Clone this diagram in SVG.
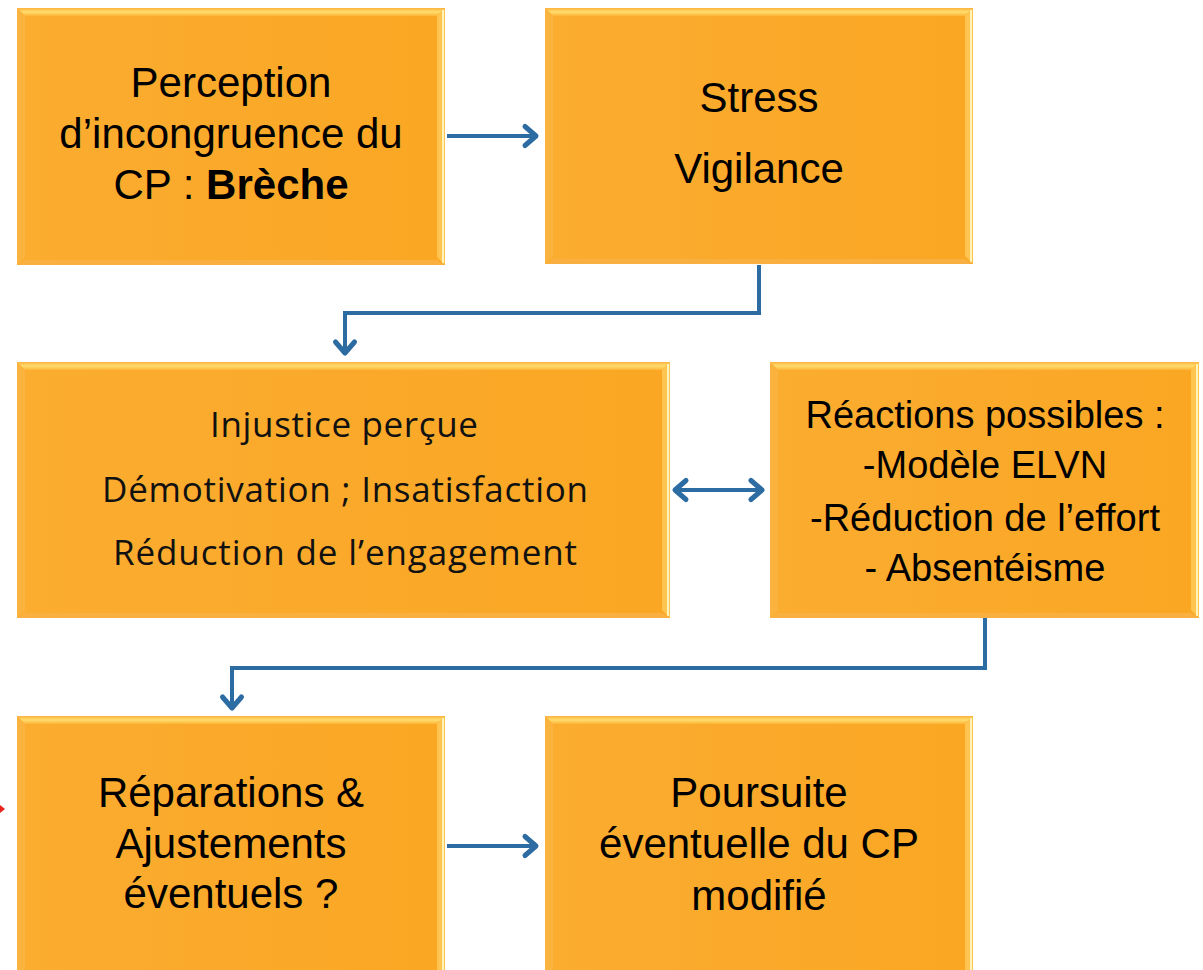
<svg xmlns="http://www.w3.org/2000/svg" width="1203" height="970" viewBox="0 0 1203 970">
  <defs>
    <linearGradient id="body" x1="0" y1="0" x2="1" y2="0">
      <stop offset="0" stop-color="#FBAD30"/>
      <stop offset="0.5" stop-color="#FAA92A"/>
      <stop offset="1" stop-color="#FAA723"/>
    </linearGradient>
    <linearGradient id="topbev" x1="0" y1="0" x2="0" y2="1">
      <stop offset="0" stop-color="#FBB23C"/>
      <stop offset="0.5" stop-color="#FFDD6E"/>
      <stop offset="1" stop-color="#FCB437"/>
    </linearGradient>
    <marker id="ah" viewBox="-16 -14 20 28" markerWidth="20" markerHeight="28" refX="0" refY="0" orient="auto-start-reverse" markerUnits="userSpaceOnUse">
      <path d="M-11,-9.5 L0,0 L-11,9.5" fill="none" stroke="#2D6CA2" stroke-width="5" stroke-linecap="round" stroke-linejoin="round"/>
    </marker>
  </defs>
  <style>
    .box { fill: url(#body); }
    .tb { fill: url(#topbev); }
    .lb { fill: #FBB443; opacity: 0.8; }
    .rb { fill: #FFC550; }
    .rl { fill: #FFF3B8; }
    .bb { fill: #F9B040; }
    .t { font-family: "Liberation Sans", Arial, sans-serif; font-size: 42px; fill: #000; text-anchor: middle; }
    .t4 { font-family: "Liberation Sans", Arial, sans-serif; font-size: 38px; fill: #000; text-anchor: middle; }
    .t3 { font-family: "Open Sans", "Liberation Sans", sans-serif; font-size: 35px; fill: #111; text-anchor: middle; }
    .con { fill: none; stroke: #2D6CA2; stroke-width: 4; }
  </style>
  <rect x="0" y="0" width="1203" height="970" fill="#FFFFFF"/>

  <g id="node1">
    <rect class="box" x="17" y="8" width="428" height="257"/>
    <polygon class="tb" points="17,8 445,8 437,16 25,16"/>
    <polygon class="lb" points="17,8 25,16 25,257 17,265"/>
    <polygon class="rb" points="445,8 445,265 437,257 437,16"/>
    <rect class="rl" x="442" y="10" width="2" height="253"/>
    <polygon class="bb" points="17,265 445,265 437,260 25,260"/>
    <text class="t" x="231" y="97">Perception</text>
    <text class="t" x="231" y="148">d’incongruence du</text>
    <text class="t" x="231" y="199">CP : <tspan font-weight="bold">Brèche</tspan></text>
  </g>

  <g id="node2">
    <rect class="box" x="545" y="8" width="428" height="256"/>
    <polygon class="tb" points="545,8 973,8 965,16 553,16"/>
    <polygon class="lb" points="545,8 553,16 553,256 545,264"/>
    <polygon class="rb" points="973,8 973,264 965,256 965,16"/>
    <rect class="rl" x="970" y="10" width="2" height="252"/>
    <polygon class="bb" points="545,264 973,264 965,259 553,259"/>
    <text class="t" x="759" y="112">Stress</text>
    <text class="t" x="759" y="183">Vigilance</text>
  </g>

  <g id="node3">
    <rect class="box" x="17" y="362" width="653" height="256"/>
    <polygon class="tb" points="17,362 670,362 662,370 25,370"/>
    <polygon class="lb" points="17,362 25,370 25,610 17,618"/>
    <polygon class="rb" points="670,362 670,618 662,610 662,370"/>
    <rect class="rl" x="667" y="364" width="2" height="252"/>
    <polygon class="bb" points="17,618 670,618 662,613 25,613"/>
    <text class="t3" x="344" y="437" textLength="268" lengthAdjust="spacing">Injustice perçue</text>
    <text class="t3" x="345" y="502" textLength="486" lengthAdjust="spacing">Démotivation ; Insatisfaction</text>
    <text class="t3" x="345" y="565" textLength="464" lengthAdjust="spacing">Réduction de l’engagement</text>
  </g>

  <g id="node4">
    <rect class="box" x="770" y="362" width="429" height="256"/>
    <polygon class="tb" points="770,362 1199,362 1191,370 778,370"/>
    <polygon class="lb" points="770,362 778,370 778,610 770,618"/>
    <polygon class="rb" points="1199,362 1199,618 1191,610 1191,370"/>
    <rect class="rl" x="1196" y="364" width="2" height="252"/>
    <polygon class="bb" points="770,618 1199,618 1191,613 778,613"/>
    <text class="t4" x="985" y="428">Réactions possibles :</text>
    <text class="t4" x="985" y="478">-Modèle ELVN</text>
    <text class="t4" x="985" y="531">-Réduction de l’effort</text>
    <text class="t4" x="985" y="581">- Absentéisme</text>
  </g>

  <g id="node5">
    <rect class="box" x="17" y="716" width="428" height="260"/>
    <polygon class="tb" points="17,716 445,716 437,724 25,724"/>
    <polygon class="lb" points="17,716 25,724 25,976 17,976"/>
    <polygon class="rb" points="445,716 445,976 437,976 437,724"/>
    <rect class="rl" x="442" y="718" width="2" height="258"/>
    <text class="t" x="231" y="807">Réparations &amp;</text>
    <text class="t" x="231" y="858">Ajustements</text>
    <text class="t" x="231" y="908">éventuels ?</text>
  </g>

  <g id="node6">
    <rect class="box" x="545" y="716" width="428" height="260"/>
    <polygon class="tb" points="545,716 973,716 965,724 553,724"/>
    <polygon class="lb" points="545,716 553,724 553,976 545,976"/>
    <polygon class="rb" points="973,716 973,976 965,976 965,724"/>
    <rect class="rl" x="970" y="718" width="2" height="258"/>
    <text class="t" x="759" y="807">Poursuite</text>
    <text class="t" x="759" y="858">éventuelle du CP</text>
    <text class="t" x="759" y="910">modifié</text>
  </g>

  <g id="connectors">
    <path class="con" d="M447,136 H536" marker-end="url(#ah)"/>
    <path class="con" d="M759,265 V313 H345 V353" marker-end="url(#ah)"/>
    <path class="con" d="M675,490 H762" marker-start="url(#ah)" marker-end="url(#ah)"/>
    <path class="con" d="M985,618 V668 H232 V708" marker-end="url(#ah)"/>
    <path class="con" d="M447,846 H536" marker-end="url(#ah)"/>
  </g>

  <polygon points="0,805 5,809 0,813" fill="#E8231C"/>
</svg>
